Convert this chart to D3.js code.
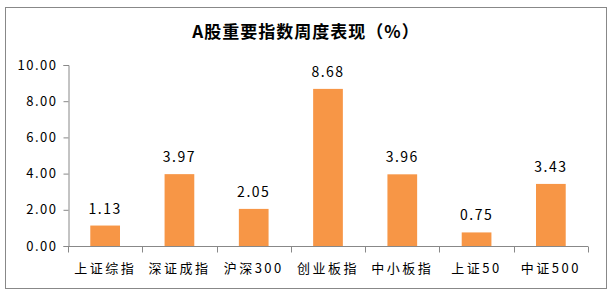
<!DOCTYPE html>
<html lang="zh">
<head>
  <meta charset="UTF-8">
  <title>A股重要指数周度表现</title>
  <script src="https://d3js.org/d3.v7.min.js"></script>
  <style>
    body { margin: 0; background: #fff; }
    text { font-family: "Noto Sans CJK SC", sans-serif; fill: #000; }
  </style>
</head>
<body>
  <div id="chart"></div>
  <script>
    const categories = ["上证综指", "深证成指", "沪深300", "创业板指", "中小板指", "上证50", "中证500"];
    const values = [1.13, 3.97, 2.05, 8.68, 3.96, 0.75, 3.43];
    const yTicks = [0, 2, 4, 6, 8, 10];

    const width = 612, height = 295;
    const margin = {top: 65, right: 24, bottom: 49, left: 68};

    const svg = d3.select("#chart").append("svg")
      .attr("width", width)
      .attr("height", height);

    // outer frame
    svg.append("rect")
      .attr("x", 5.5).attr("y", 7.5)
      .attr("width", 601).attr("height", 281)
      .attr("fill", "#fff")
      .attr("stroke", "#888").attr("stroke-width", 1);

    svg.append("text")
      .attr("x", 306).attr("y", 38)
      .attr("text-anchor", "middle")
      .attr("font-size", 17)
      .attr("font-weight", "bold")
      .attr("letter-spacing", 1)
      .text("A股重要指数周度表现（%）");

    const x = d3.scaleBand()
      .domain(categories)
      .range([margin.left, width - margin.right])
      .paddingInner(0.6)
      .paddingOuter(0.3);

    const y = d3.scaleLinear()
      .domain([0, 10])
      .range([height - margin.bottom, margin.top]);

    // bars
    svg.selectAll("rect.bar")
      .data(values)
      .join("rect")
      .attr("class", "bar")
      .attr("x", (d, i) => x(categories[i]))
      .attr("y", d => y(d))
      .attr("width", x.bandwidth())
      .attr("height", d => y(0) - y(d))
      .attr("fill", "#F79646");

    // value labels
    svg.selectAll("text.val")
      .data(values)
      .join("text")
      .attr("class", "val")
      .attr("x", (d, i) => x(categories[i]) + x.bandwidth() / 2)
      .attr("y", d => y(d) - 12)
      .attr("text-anchor", "middle")
      .attr("font-size", 14)
      .attr("letter-spacing", 1.5)
      .text(d => d.toFixed(2));

    // y axis
    const yAxis = svg.append("g")
      .attr("transform", `translate(${margin.left + 0.5},0)`)
      .call(d3.axisLeft(y).tickValues(yTicks).tickFormat(d => d.toFixed(2)).tickSize(5).tickPadding(6));
    yAxis.selectAll("text").attr("font-size", 13).attr("letter-spacing", 1.5);
    yAxis.selectAll("path.domain, line").attr("stroke", "#888");

    // x axis with ticks at band boundaries
    const xAxis = svg.append("g")
      .attr("transform", `translate(0,${y(0) + 0.5})`);
    xAxis.append("line")
      .attr("x1", margin.left).attr("x2", width - margin.right)
      .attr("stroke", "#888");
    const edges = d3.range(categories.length + 1).map(i => margin.left + i * x.step() / (1 - 0) );
    xAxis.selectAll("line.tk")
      .data(d3.range(categories.length + 1))
      .join("line")
      .attr("class", "tk")
      .attr("x1", i => Math.round(margin.left + i * (width - margin.left - margin.right) / categories.length) + 0.5)
      .attr("x2", i => Math.round(margin.left + i * (width - margin.left - margin.right) / categories.length) + 0.5)
      .attr("y1", 0).attr("y2", 6)
      .attr("stroke", "#888");
    xAxis.selectAll("text")
      .data(categories)
      .join("text")
      .attr("x", d => x(d) + x.bandwidth() / 2)
      .attr("y", 26)
      .attr("text-anchor", "middle")
      .attr("font-size", 13)
      .attr("letter-spacing", 2.5)
      .text(d => d);
  </script>
</body>
</html>
